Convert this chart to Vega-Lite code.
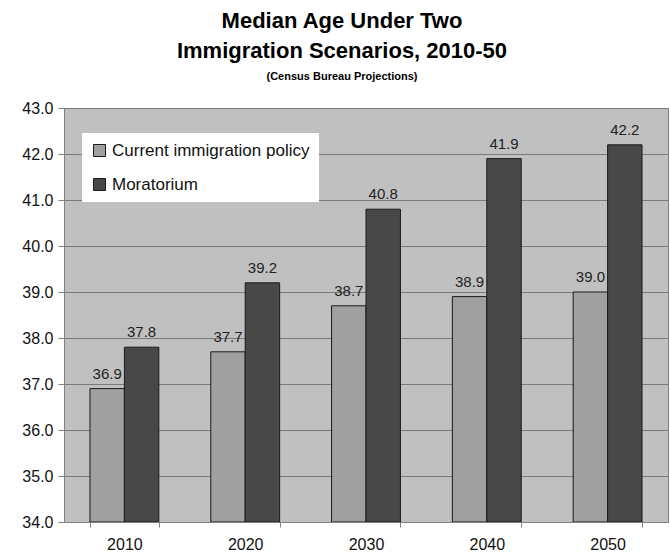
{
  "$schema": "https://vega.github.io/schema/vega-lite/v6.json",
  "width": 604,
  "height": 414,
  "autosize": "none",
  "padding": {"left": 64, "top": 108, "right": 2, "bottom": 31},
  "background": "white",
  "title": {
    "text": ["Median Age Under Two", "Immigration Scenarios, 2010-50"],
    "subtitle": "(Census Bureau Projections)",
    "font": "Liberation Sans",
    "fontSize": 22,
    "fontWeight": "bold",
    "color": "black",
    "lineHeight": 30,
    "subtitleFont": "Liberation Sans",
    "subtitleFontSize": 11,
    "subtitleFontWeight": "bold",
    "subtitleColor": "black",
    "subtitlePadding": 8,
    "anchor": "middle",
    "dx": -24,
    "offset": 17
  },
  "config": {
    "view": {"fill": "#c0c0c0", "stroke": "#808080"},
    "axis": {"labelFont": "Liberation Sans", "labelFontSize": 16, "labelColor": "#111"}
  },
  "data": {
    "values": [
      {"year": "2010", "scenario": "Current immigration policy", "age": 36.9},
      {"year": "2010", "scenario": "Moratorium", "age": 37.8},
      {"year": "2020", "scenario": "Current immigration policy", "age": 37.7},
      {"year": "2020", "scenario": "Moratorium", "age": 39.2},
      {"year": "2030", "scenario": "Current immigration policy", "age": 38.7},
      {"year": "2030", "scenario": "Moratorium", "age": 40.8},
      {"year": "2040", "scenario": "Current immigration policy", "age": 38.9},
      {"year": "2040", "scenario": "Moratorium", "age": 41.9},
      {"year": "2050", "scenario": "Current immigration policy", "age": 39.0},
      {"year": "2050", "scenario": "Moratorium", "age": 42.2}
    ]
  },
  "encoding": {
    "x": {
      "field": "year", "type": "nominal",
      "scale": {"paddingInner": 0.43, "paddingOuter": 0.215},
      "axis": {"title": null, "labelAngle": 0, "tickBand": "extent", "domainColor": "#808080", "tickColor": "#808080", "tickSize": 5, "labelPadding": 9, "grid": false, "zindex": 1}
    },
    "xOffset": {"field": "scenario", "type": "nominal", "scale": {"paddingInner": 0}},
    "y": {
      "field": "age", "type": "quantitative",
      "scale": {"domain": [34, 43], "zero": false, "nice": false},
      "axis": {"title": null, "format": ".1f", "values": [34, 35, 36, 37, 38, 39, 40, 41, 42, 43], "labelOverlap": false, "gridColor": "#7a7a7a", "gridWidth": 1, "gridOpacity": 1, "domainColor": "#808080", "tickColor": "#808080", "tickSize": 6, "labelPadding": 5}
    }
  },
  "layer": [
    {
      "mark": {"type": "bar", "stroke": "#1a1a1a", "strokeWidth": 1},
      "encoding": {
        "y2": {"datum": 34},
        "color": {
          "field": "scenario", "type": "nominal",
          "scale": {"domain": ["Current immigration policy", "Moratorium"], "range": ["#a0a0a0", "#484848"]},
          "legend": {
            "title": null, "orient": "none", "legendX": 18, "legendY": 25,
            "fillColor": "white", "padding": 9, "symbolType": "square", "symbolSize": 144,
            "symbolStrokeColor": "#1a1a1a", "symbolStrokeWidth": 1,
            "labelFont": "Liberation Sans", "labelFontSize": 17, "labelColor": "#111", "labelLimit": 0,
            "rowPadding": 16, "labelOffset": 4, "symbolOffset": 0
          }
        }
      }
    },
    {
      "mark": {"type": "text", "dy": -10, "baseline": "alphabetic", "font": "Liberation Sans", "fontSize": 15, "color": "#222"},
      "encoding": {
        "text": {"field": "age", "type": "quantitative", "format": ".1f"}
      }
    }
  ]
}
